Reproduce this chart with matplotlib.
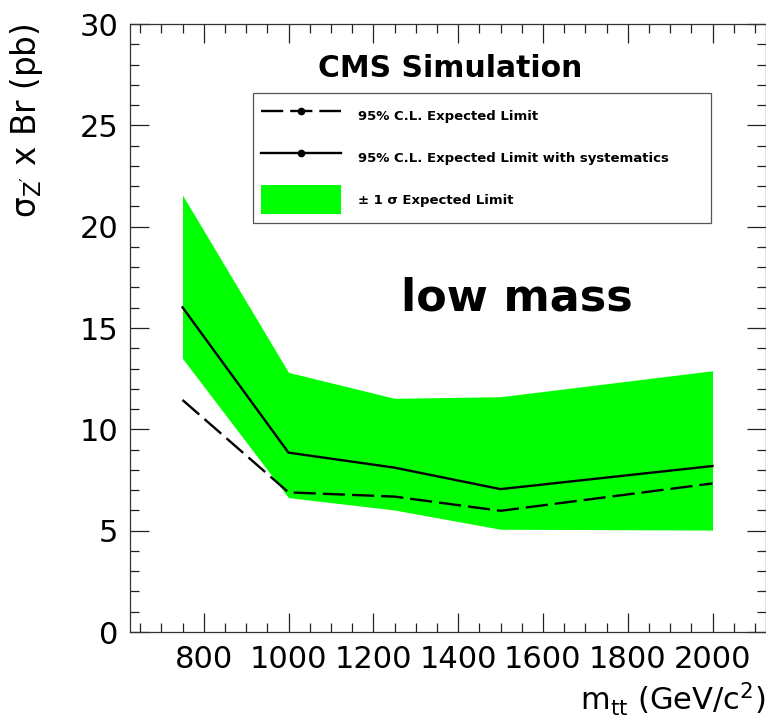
import matplotlib
matplotlib.use("Agg")
import matplotlib.pyplot as plt
from matplotlib.lines import Line2D
from matplotlib.patches import Patch
from matplotlib.ticker import MultipleLocator

plt.rcParams['font.family'] = ['DejaVu Sans']
plt.rcParams['mathtext.fontset'] = 'dejavusans'
plt.rcParams['lines.scale_dashes'] = False

# Z' mass points (GeV/c^2)
mass = [750, 1000, 1250, 1500, 2000]
# 95% C.L. expected limit, no systematics (pb)
exp_limit = [11.45, 6.89, 6.68, 5.98, 7.33]
# 95% C.L. expected limit with systematics (pb)
exp_limit_syst = [16.02, 8.85, 8.11, 7.05, 8.19]
# +-1 sigma band
band_lo = [13.5, 6.63, 6.02, 5.07, 5.03]
band_hi = [21.56, 12.81, 11.53, 11.61, 12.89]

green = '#00ff00'
dash = (0, (16, 5))

fig = plt.figure(figsize=(7.66, 7.22), dpi=100)
ax = fig.add_axes([129.5 / 766, 90 / 722, 636 / 766, 608 / 722])

ax.fill_between(mass, band_lo, band_hi, color=green, lw=0)
ax.plot(mass, exp_limit, color='black', lw=1.7, linestyle=dash)
ax.plot(mass, exp_limit_syst, color='black', lw=1.7)

ax.set_xlim(625, 2125)
ax.set_ylim(0, 30)
ax.xaxis.set_major_locator(MultipleLocator(200))
ax.xaxis.set_minor_locator(MultipleLocator(50))
ax.yaxis.set_major_locator(MultipleLocator(5))
ax.yaxis.set_minor_locator(MultipleLocator(1))
ax.tick_params(which='both', direction='in', top=True, right=True,
               labelsize=22, color='#222222', width=0.9)
ax.tick_params(which='major', length=14)
ax.tick_params(which='minor', length=6.5)
ax.tick_params(axis='x', pad=9)
ax.tick_params(axis='y', pad=8)
for s in ax.spines.values():
    s.set_color('#333333')
    s.set_linewidth(0.9)

ax.set_xlabel(r"m$_{\mathregular{tt}}$ (GeV/c$^{\mathregular{2}}$)", fontsize=22,
              loc='right', labelpad=5)
ax.set_ylabel(r"σ$_{\mathregular{Z'}}$ x Br (pb)", fontsize=23.5, loc='top', labelpad=25)

ax.text(0.504, 0.913, "CMS Simulation", transform=ax.transAxes, ha='center',
        va='baseline', fontsize=21.5, fontweight='bold')
ax.text(0.609, 0.5296, "low mass", transform=ax.transAxes, ha='center',
        va='baseline', fontsize=32, fontweight='bold')

handles = [
    Line2D([], [], color='black', lw=1.7, linestyle=dash, marker='o', markersize=4.5),
    Line2D([], [], color='black', lw=1.7, marker='o', markersize=4.5),
    Patch(facecolor=green, edgecolor='none'),
]
labels = ["95% C.L. Expected Limit",
          "95% C.L. Expected Limit with systematics",
          "± 1 σ Expected Limit"]
leg = ax.legend(handles, labels, loc='upper left',
                bbox_to_anchor=(0.194, 0.674, 0.721, 0.2125), mode='expand',
                borderaxespad=0, prop={'weight': 'bold', 'size': 9.5},
                handlelength=6.06, handleheight=3.0, handletextpad=1.28,
                labelspacing=0.985, borderpad=0.64, fancybox=False,
                framealpha=1, edgecolor='#555555')
leg.get_frame().set_linewidth(0.9)

plt.savefig("out.png", dpi=100)
